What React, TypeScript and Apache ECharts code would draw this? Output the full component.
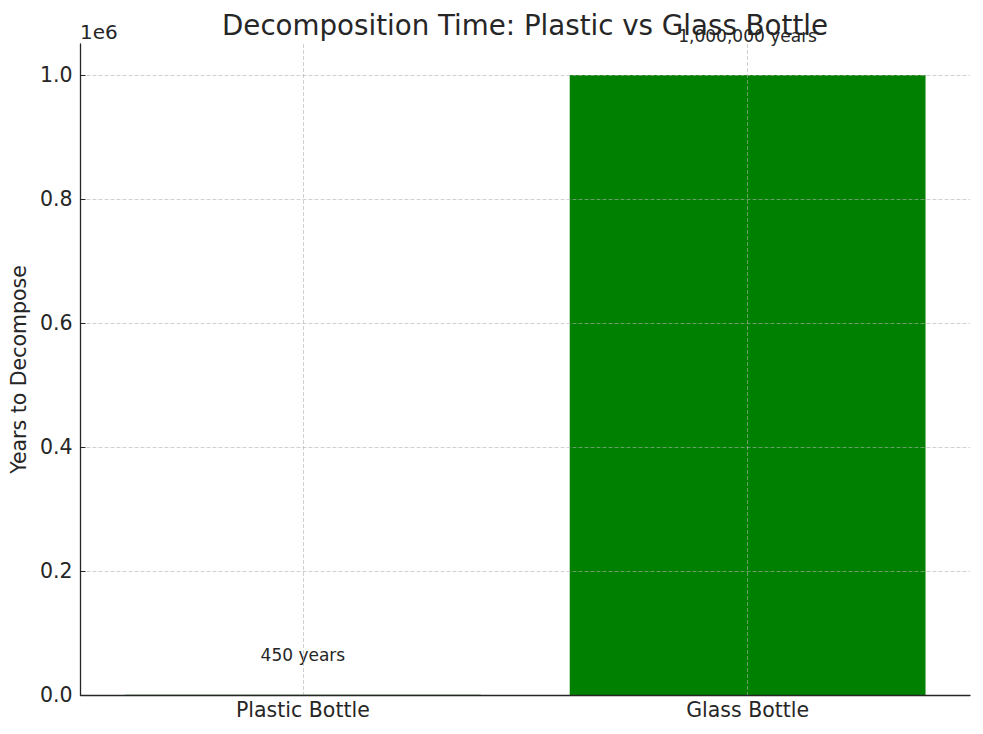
import React, { useEffect, useRef } from "react";
import * as echarts from "echarts";

const categories = ["Plastic Bottle", "Glass Bottle"];
const years = [450, 1000000];
const barLabels = ["450 years", "1,000,000 years"];
const yTicks = [0, 200000, 400000, 600000, 800000, 1000000];

const FONT = "DejaVu Sans";
const TXT = "#262626";
const GRID = "rgba(176,176,176,0.6)";

export default function App() {
  const ref = useRef<HTMLDivElement>(null);
  useEffect(() => {
    document.body.style.margin = "0";
    const chart = echarts.init(ref.current!, null, { renderer: "svg" });
    chart.setOption({
      animation: false,
      textStyle: { fontFamily: FONT },
      grid: { left: 80, top: 44, width: 890, height: 651, containLabel: false },
      graphic: [
        {
          type: "text",
          x: 525,
          y: 25,
          style: {
            text: "Decomposition Time: Plastic vs Glass Bottle",
            fontFamily: FONT,
            fontSize: 27.7,
            fill: TXT,
            align: "center",
            verticalAlign: "middle",
          },
          z: 10,
        },
        {
          type: "text",
          x: 80,
          y: 32,
          style: {
            text: "1e6",
            fontFamily: FONT,
            fontSize: 20,
            fill: TXT,
            align: "left",
            verticalAlign: "middle",
          },
        },
      ],
      xAxis: {
        type: "category",
        data: categories,
        axisLine: { lineStyle: { color: TXT, width: 1.3 } },
        axisTick: { inside: true, length: 5, alignWithLabel: true, lineStyle: { color: TXT } },
        axisLabel: { color: TXT, fontFamily: FONT, fontSize: 20.5, margin: 4 },
        splitLine: {
          show: true,
          alignWithLabel: true,
          lineStyle: { color: GRID, type: [4, 2], width: 1 },
        },
      },
      yAxis: {
        type: "value",
        min: 0,
        max: 1050000,
        interval: 200000,
        name: "Years to Decompose",
        nameLocation: "middle",
        nameRotate: 90,
        nameGap: 44,
        nameTextStyle: { color: TXT, fontFamily: FONT, fontSize: 20.5 },
        axisLine: { show: true, lineStyle: { color: TXT, width: 1.3 } },
        axisTick: { show: true, inside: true, length: 5, lineStyle: { color: TXT } },
        axisLabel: {
          color: TXT,
          fontFamily: FONT,
          fontSize: 20.5,
          margin: 8,
          showMaxLabel: false,
          formatter: (v: number) => (yTicks.includes(v) ? (v / 1e6).toFixed(1) : ""),
        },
        splitLine: {
          show: true,
          showMaxLine: false,
          lineStyle: { color: GRID, type: [4, 2], width: 1 },
        },
      },
      series: [
        {
          type: "bar",
          z: -1,
          data: years,
          barWidth: "80%",
          itemStyle: { color: "#008000" },
          label: {
            show: true,
            position: "top",
            distance: 31,
            color: TXT,
            fontFamily: FONT,
            fontSize: 17,
            formatter: (p: any) => barLabels[p.dataIndex],
          },
        },
      ],
    });
    return () => chart.dispose();
  }, []);
  return <div ref={ref} style={{ width: 983, height: 734 }} />;
}
